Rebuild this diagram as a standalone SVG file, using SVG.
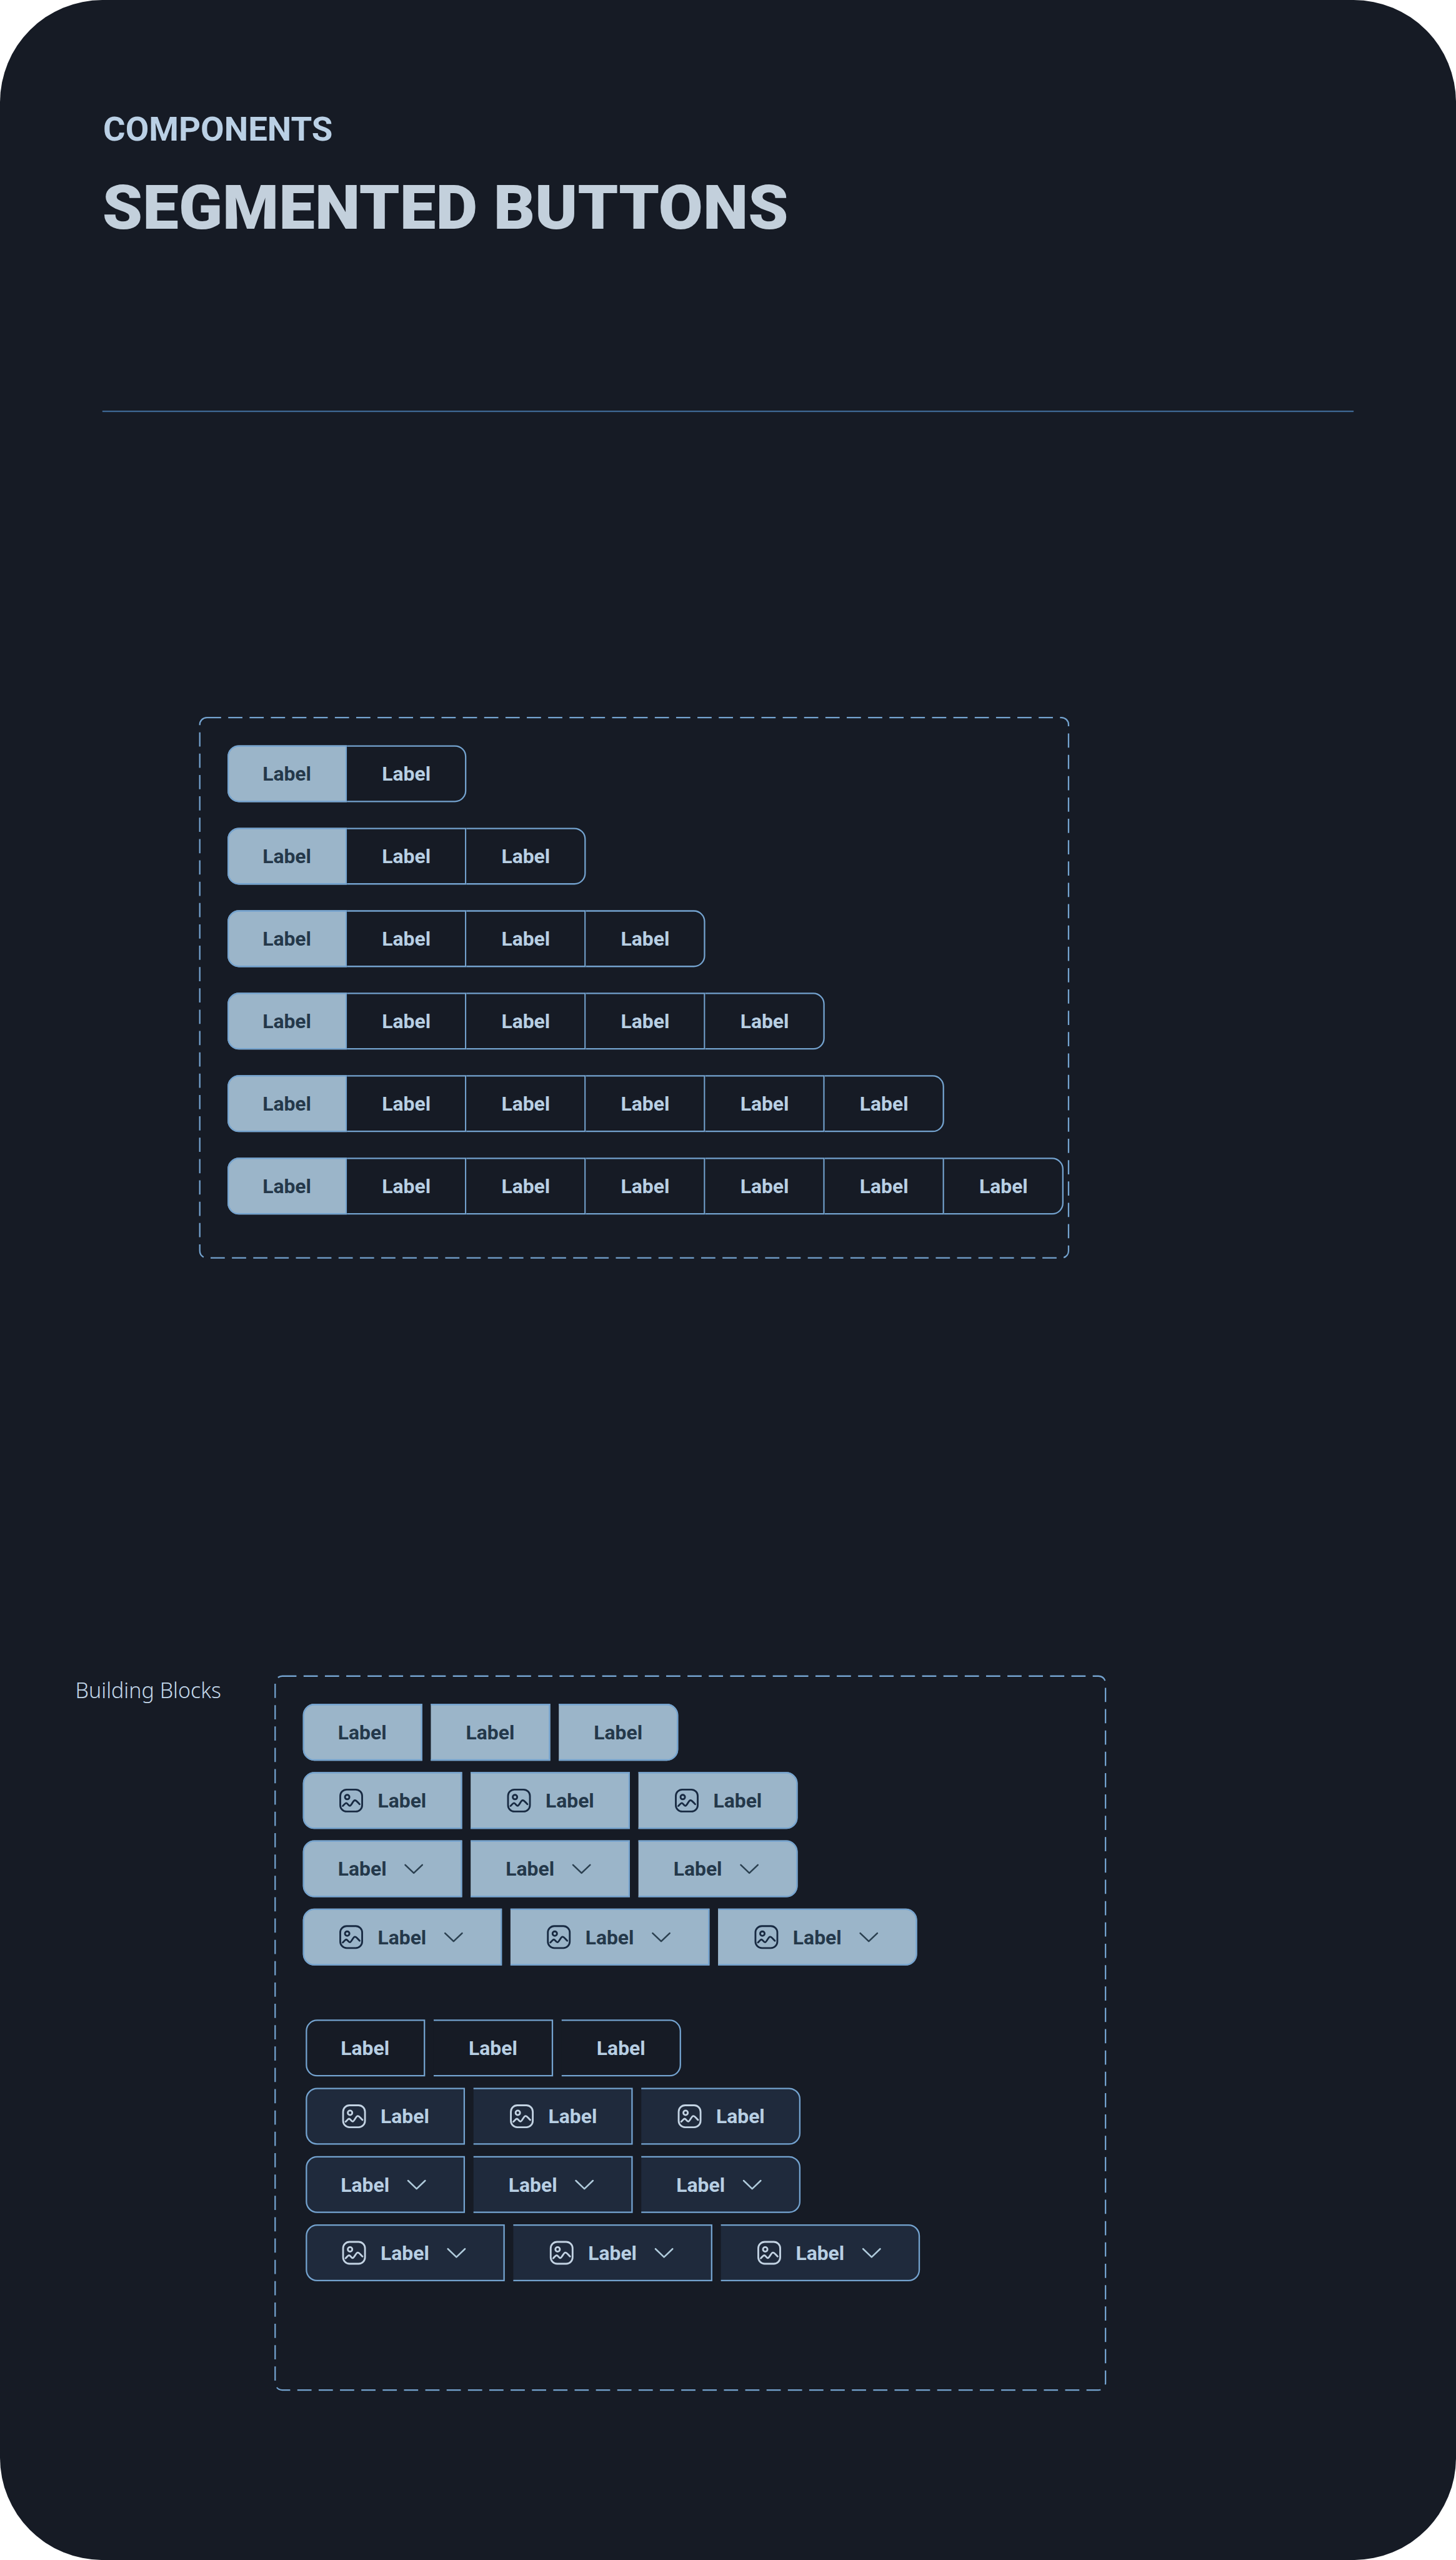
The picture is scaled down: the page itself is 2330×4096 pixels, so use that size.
<svg xmlns="http://www.w3.org/2000/svg" width="2330" height="4096" viewBox="0 0 2330 4096">
<style>
text{font-family:Roboto,"Liberation Sans",sans-serif}
.s{stroke:none}
.b{fill:none;stroke:#74a3cf;stroke-width:4}
.dash{fill:none;stroke:#74a3cf;stroke-width:4;stroke-dasharray:40 20}
.on{fill:#9bb5c9}
.off{fill:#161b25}
.alt{fill:#1f2a3c}
.t{font-size:56px;font-weight:700;text-anchor:middle}
.on .t{fill:#24384a}
.off .t,.alt .t{fill:#b8cfe3}
.on .ic{stroke:#182a42}
.alt .ic{stroke:#c3d3e3}
.on .cv{stroke:#2b4050}
.alt .cv{stroke:#b0cbdc}
.icp{fill:none;stroke-width:5;stroke-linecap:round;stroke-linejoin:round}
.cvp{fill:none;stroke-width:4.5;stroke-linecap:round;stroke-linejoin:round}
</style>
<defs>
<g id="f336"><path class="s" d="M32 0H336V160H32A32 32 0 0 1 0 128V32A32 32 0 0 1 32 0Z"/><path class="b" d="M334 2H32A30 30 0 0 0 2 32V128A30 30 0 0 0 32 158H334Z"/></g>
<g id="m336"><path class="s" d="M0 0H336V160H0Z"/><path class="b" d="M0 2H334V158H0"/></g>
<g id="l336"><path class="s" d="M0 0H304A32 32 0 0 1 336 32V128A32 32 0 0 1 304 160H0Z"/><path class="b" d="M0 2H304A30 30 0 0 1 334 32V128A30 30 0 0 1 304 158H0"/></g>
<g id="f448"><path class="s" d="M32 0H448V160H32A32 32 0 0 1 0 128V32A32 32 0 0 1 32 0Z"/><path class="b" d="M446 2H32A30 30 0 0 0 2 32V128A30 30 0 0 0 32 158H446Z"/></g>
<g id="m448"><path class="s" d="M0 0H448V160H0Z"/><path class="b" d="M0 2H446V158H0"/></g>
<g id="l448"><path class="s" d="M0 0H416A32 32 0 0 1 448 32V128A32 32 0 0 1 416 160H0Z"/><path class="b" d="M0 2H416A30 30 0 0 1 446 32V128A30 30 0 0 1 416 158H0"/></g>
<g id="f560"><path class="s" d="M32 0H560V160H32A32 32 0 0 1 0 128V32A32 32 0 0 1 32 0Z"/><path class="b" d="M558 2H32A30 30 0 0 0 2 32V128A30 30 0 0 0 32 158H558Z"/></g>
<g id="m560"><path class="s" d="M0 0H560V160H0Z"/><path class="b" d="M0 2H558V158H0"/></g>
<g id="l560"><path class="s" d="M0 0H528A32 32 0 0 1 560 32V128A32 32 0 0 1 528 160H0Z"/><path class="b" d="M0 2H528A30 30 0 0 1 558 32V128A30 30 0 0 1 528 158H0"/></g>
<g id="ico"><rect class="icp" x="-30.8" y="-30.8" width="61.6" height="61.6" rx="18"/><circle class="icp" cx="-11.3" cy="-9.7" r="6.3"/><path class="icp" d="M-23.7 15.3C-19 11-17 7-14 7C-10 7-8 14.7-4 14.7C1 14.7 5-.7 10.3-.7C15-.7 19 6 23.7 10.3"/></g>
<path id="chev" class="cvp" d="M-24-11L0 12L24-11"/>
</defs>
<rect width="2330" height="4096" fill="#fff"/>
<g transform="scale(0.56885 0.56889)">
<rect id="panel" width="4096" height="7200" rx="288" fill="#161b25"/>
<g id="header">
<text x="290" y="396" font-size="94" font-weight="700" fill="#bad0e5" textLength="646" lengthAdjust="spacingAndGlyphs">COMPONENTS</text>
<text x="288" y="644" font-size="174" font-weight="900" fill="#c3d0dc" textLength="1930" lengthAdjust="spacingAndGlyphs">SEGMENTED BUTTONS</text>
<path d="M288 1157H3808" fill="none" stroke="#3f6a96" stroke-width="4"/>
</g>
<rect id="frame-variants" class="dash" x="562" y="2018" width="2444" height="1520" rx="20"/>
<g id="row-2">
<g id="r2s1" class="on" transform="translate(640 2096)"><use href="#f336"/><text class="t" x="167" y="100">Label</text></g>
<g id="r2s2" class="off" transform="translate(976 2096)"><use href="#l336"/><text class="t" x="167" y="100">Label</text></g>
</g>
<g id="row-3">
<g id="r3s1" class="on" transform="translate(640 2328)"><use href="#f336"/><text class="t" x="167" y="100">Label</text></g>
<g id="r3s2" class="off" transform="translate(976 2328)"><use href="#m336"/><text class="t" x="167" y="100">Label</text></g>
<g id="r3s3" class="off" transform="translate(1312 2328)"><use href="#l336"/><text class="t" x="167" y="100">Label</text></g>
</g>
<g id="row-4">
<g id="r4s1" class="on" transform="translate(640 2560)"><use href="#f336"/><text class="t" x="167" y="100">Label</text></g>
<g id="r4s2" class="off" transform="translate(976 2560)"><use href="#m336"/><text class="t" x="167" y="100">Label</text></g>
<g id="r4s3" class="off" transform="translate(1312 2560)"><use href="#m336"/><text class="t" x="167" y="100">Label</text></g>
<g id="r4s4" class="off" transform="translate(1648 2560)"><use href="#l336"/><text class="t" x="167" y="100">Label</text></g>
</g>
<g id="row-5">
<g id="r5s1" class="on" transform="translate(640 2792)"><use href="#f336"/><text class="t" x="167" y="100">Label</text></g>
<g id="r5s2" class="off" transform="translate(976 2792)"><use href="#m336"/><text class="t" x="167" y="100">Label</text></g>
<g id="r5s3" class="off" transform="translate(1312 2792)"><use href="#m336"/><text class="t" x="167" y="100">Label</text></g>
<g id="r5s4" class="off" transform="translate(1648 2792)"><use href="#m336"/><text class="t" x="167" y="100">Label</text></g>
<g id="r5s5" class="off" transform="translate(1984 2792)"><use href="#l336"/><text class="t" x="167" y="100">Label</text></g>
</g>
<g id="row-6">
<g id="r6s1" class="on" transform="translate(640 3024)"><use href="#f336"/><text class="t" x="167" y="100">Label</text></g>
<g id="r6s2" class="off" transform="translate(976 3024)"><use href="#m336"/><text class="t" x="167" y="100">Label</text></g>
<g id="r6s3" class="off" transform="translate(1312 3024)"><use href="#m336"/><text class="t" x="167" y="100">Label</text></g>
<g id="r6s4" class="off" transform="translate(1648 3024)"><use href="#m336"/><text class="t" x="167" y="100">Label</text></g>
<g id="r6s5" class="off" transform="translate(1984 3024)"><use href="#m336"/><text class="t" x="167" y="100">Label</text></g>
<g id="r6s6" class="off" transform="translate(2320 3024)"><use href="#l336"/><text class="t" x="167" y="100">Label</text></g>
</g>
<g id="row-7">
<g id="r7s1" class="on" transform="translate(640 3256)"><use href="#f336"/><text class="t" x="167" y="100">Label</text></g>
<g id="r7s2" class="off" transform="translate(976 3256)"><use href="#m336"/><text class="t" x="167" y="100">Label</text></g>
<g id="r7s3" class="off" transform="translate(1312 3256)"><use href="#m336"/><text class="t" x="167" y="100">Label</text></g>
<g id="r7s4" class="off" transform="translate(1648 3256)"><use href="#m336"/><text class="t" x="167" y="100">Label</text></g>
<g id="r7s5" class="off" transform="translate(1984 3256)"><use href="#m336"/><text class="t" x="167" y="100">Label</text></g>
<g id="r7s6" class="off" transform="translate(2320 3256)"><use href="#m336"/><text class="t" x="167" y="100">Label</text></g>
<g id="r7s7" class="off" transform="translate(2656 3256)"><use href="#l336"/><text class="t" x="167" y="100">Label</text></g>
</g>
<text id="blocks-title" x="212" y="4776" font-size="60" font-weight="300" fill="#c4d8ea" style="font-family:'Noto Sans',sans-serif" textLength="410" lengthAdjust="spacingAndGlyphs">Building Blocks</text>
<rect id="frame-blocks" class="dash" x="774" y="4714" width="2336" height="2008" rx="20"/>
<g id="selected-blocks">
<g id="a1a" class="on" transform="translate(852 4792)"><use href="#f336"/><text class="t" x="167" y="100">Label</text></g>
<g id="a1b" class="on" transform="translate(1212 4792)"><use href="#m336"/><text class="t" x="167" y="100">Label</text></g>
<g id="a1c" class="on" transform="translate(1572 4792)"><use href="#l336"/><text class="t" x="167" y="100">Label</text></g>
<g id="a2a" class="on" transform="translate(852 4984)"><use href="#f448"/><use class="ic" href="#ico" x="136" y="80"/><text class="t" x="279" y="100">Label</text></g>
<g id="a2b" class="on" transform="translate(1324 4984)"><use href="#m448"/><use class="ic" href="#ico" x="136" y="80"/><text class="t" x="279" y="100">Label</text></g>
<g id="a2c" class="on" transform="translate(1796 4984)"><use href="#l448"/><use class="ic" href="#ico" x="136" y="80"/><text class="t" x="279" y="100">Label</text></g>
<g id="a3a" class="on" transform="translate(852 5176)"><use href="#f448"/><text class="t" x="167" y="100">Label</text><use class="cv" href="#chev" x="312" y="80"/></g>
<g id="a3b" class="on" transform="translate(1324 5176)"><use href="#m448"/><text class="t" x="167" y="100">Label</text><use class="cv" href="#chev" x="312" y="80"/></g>
<g id="a3c" class="on" transform="translate(1796 5176)"><use href="#l448"/><text class="t" x="167" y="100">Label</text><use class="cv" href="#chev" x="312" y="80"/></g>
<g id="a4a" class="on" transform="translate(852 5368)"><use href="#f560"/><use class="ic" href="#ico" x="136" y="80"/><text class="t" x="279" y="100">Label</text><use class="cv" href="#chev" x="424" y="80"/></g>
<g id="a4b" class="on" transform="translate(1436 5368)"><use href="#m560"/><use class="ic" href="#ico" x="136" y="80"/><text class="t" x="279" y="100">Label</text><use class="cv" href="#chev" x="424" y="80"/></g>
<g id="a4c" class="on" transform="translate(2020 5368)"><use href="#l560"/><use class="ic" href="#ico" x="136" y="80"/><text class="t" x="279" y="100">Label</text><use class="cv" href="#chev" x="424" y="80"/></g>
</g>
<g id="default-blocks">
<g id="b1a" class="off" transform="translate(860 5680)"><use href="#f336"/><text class="t" x="167" y="100">Label</text></g>
<g id="b1b" class="off" transform="translate(1220 5680)"><use href="#m336"/><text class="t" x="167" y="100">Label</text></g>
<g id="b1c" class="off" transform="translate(1580 5680)"><use href="#l336"/><text class="t" x="167" y="100">Label</text></g>
<g id="b2a" class="alt" transform="translate(860 5872)"><use href="#f448"/><use class="ic" href="#ico" x="136" y="80"/><text class="t" x="279" y="100">Label</text></g>
<g id="b2b" class="alt" transform="translate(1332 5872)"><use href="#m448"/><use class="ic" href="#ico" x="136" y="80"/><text class="t" x="279" y="100">Label</text></g>
<g id="b2c" class="alt" transform="translate(1804 5872)"><use href="#l448"/><use class="ic" href="#ico" x="136" y="80"/><text class="t" x="279" y="100">Label</text></g>
<g id="b3a" class="alt" transform="translate(860 6064)"><use href="#f448"/><text class="t" x="167" y="100">Label</text><use class="cv" href="#chev" x="312" y="80"/></g>
<g id="b3b" class="alt" transform="translate(1332 6064)"><use href="#m448"/><text class="t" x="167" y="100">Label</text><use class="cv" href="#chev" x="312" y="80"/></g>
<g id="b3c" class="alt" transform="translate(1804 6064)"><use href="#l448"/><text class="t" x="167" y="100">Label</text><use class="cv" href="#chev" x="312" y="80"/></g>
<g id="b4a" class="alt" transform="translate(860 6256)"><use href="#f560"/><use class="ic" href="#ico" x="136" y="80"/><text class="t" x="279" y="100">Label</text><use class="cv" href="#chev" x="424" y="80"/></g>
<g id="b4b" class="alt" transform="translate(1444 6256)"><use href="#m560"/><use class="ic" href="#ico" x="136" y="80"/><text class="t" x="279" y="100">Label</text><use class="cv" href="#chev" x="424" y="80"/></g>
<g id="b4c" class="alt" transform="translate(2028 6256)"><use href="#l560"/><use class="ic" href="#ico" x="136" y="80"/><text class="t" x="279" y="100">Label</text><use class="cv" href="#chev" x="424" y="80"/></g>
</g>
</g>
</svg>
